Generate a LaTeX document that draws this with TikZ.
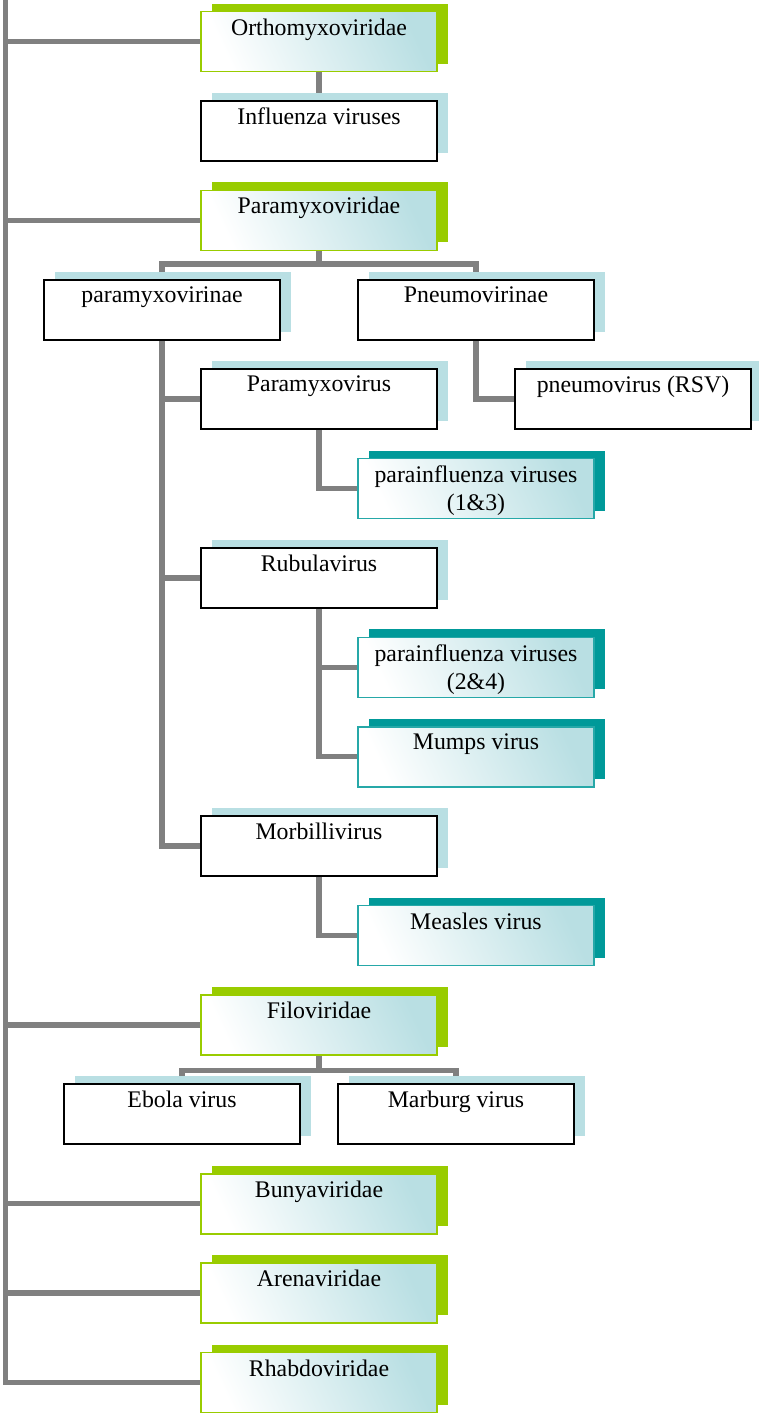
\documentclass[tikz,border=0pt]{standalone}
\usepackage{fontspec}
\setmainfont{Liberation Serif}
\usepackage{tikz}
\usetikzlibrary{shadows,backgrounds}

\definecolor{famgreen}{HTML}{99CC00}
\definecolor{virteal}{HTML}{009999}
\definecolor{paleblue}{HTML}{B9DFE3}
\definecolor{linegray}{HTML}{808080}

\begin{document}
\begin{tikzpicture}[
  x=1pt, y=-1pt,
  font=\fontsize{23.8}{28}\selectfont,
  box/.style={rectangle, minimum width=236pt, minimum height=60pt, inner xsep=6pt, inner ysep=7pt,
    execute at begin node={\begin{minipage}[c][46pt][t]{224pt}\centering},
    execute at end node={\end{minipage}}},
  glossy/.style={left color=white, middle color=white!65!paleblue, right color=paleblue, shading angle=115},
  family/.style={box, draw=famgreen, line width=1.6pt, glossy,
    general shadow={fill=famgreen, shadow xshift=11pt, shadow yshift=8pt}},
  group/.style={box, draw=black, line width=1.8pt, fill=white,
    general shadow={fill=paleblue, shadow xshift=11pt, shadow yshift=8pt}},
  virus/.style={box, draw=virteal!85, line width=1.6pt, glossy,
    general shadow={fill=virteal, shadow xshift=11pt, shadow yshift=8pt}},
  conn/.style={draw=linegray, line width=5.5pt}
]
\useasboundingbox (0,0) rectangle (759,1419);

\node[family] (ortho) at (319,41.5) {Orthomyxoviridae};
\node[group] (infl) at (319,130.9) {Influenza viruses};
\node[family] (paravir) at (319,220.3) {Paramyxoviridae};
\node[group] (pmvn) at (162,309.7) {paramyxovirinae};
\node[group] (pnvn) at (476,309.7) {Pneumovirinae};
\node[group] (pmxv) at (319,399.1) {Paramyxovirus};
\node[group] (rsv) at (633,399.1) {pneumovirus (RSV)};
\node[virus] (pi13) at (476,488.5) {parainfluenza viruses\\(1\&3)};
\node[group] (rubu) at (319,577.9) {Rubulavirus};
\node[virus] (pi24) at (476,667.3) {parainfluenza viruses\\(2\&4)};
\node[virus] (mumps) at (476,756.7) {Mumps virus};
\node[group] (morb) at (319,846.1) {Morbillivirus};
\node[virus] (measles) at (476,935.5) {Measles virus};
\node[family] (filo) at (319,1024.9) {Filoviridae};
\node[group] (ebola) at (182,1114.3) {Ebola virus};
\node[group] (marb) at (456,1114.3) {Marburg virus};
\node[family] (bunya) at (319,1203.7) {Bunyaviridae};
\node[family] (arena) at (319,1293.1) {Arenaviridae};
\node[family] (rhab) at (319,1382.5) {Rhabdoviridae};

\begin{scope}[on background layer]
% trunk on the left
\coordinate (top) at (5.5,0);
\draw[conn] (top) |- (rhab);
\foreach \n in {ortho,paravir,filo,bunya,arena}
  \draw[conn] (top |- \n) -- (\n);
% subtrees
\draw[conn] (ortho) -- (infl);
\draw[conn] (paravir) -- ([yshift=-13pt]paravir.south);
\draw[conn] (pmvn) |- ([yshift=-13pt]paravir.south) -| (pnvn);
\draw[conn] (pmvn) |- (morb);
\draw[conn] (pmvn) |- (pmxv);
\draw[conn] (pmvn) |- (rubu);
\draw[conn] (pnvn) |- (rsv);
\draw[conn] (pmxv) |- (pi13);
\draw[conn] (rubu) |- (pi24);
\draw[conn] (rubu) |- (mumps);
\draw[conn] (morb) |- (measles);
\draw[conn] (filo) -- ([yshift=-15pt]filo.south);
\draw[conn] (ebola) |- ([yshift=-15pt]filo.south) -| (marb);
\end{scope}
\end{tikzpicture}
\end{document}
